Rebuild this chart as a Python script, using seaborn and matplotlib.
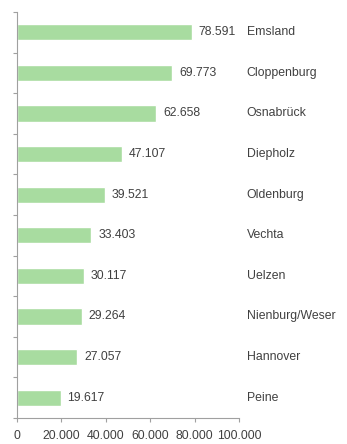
import matplotlib
matplotlib.use("Agg")
import matplotlib.pyplot as plt
import seaborn as sns
import pandas as pd
import numpy as np

districts = ["Emsland", "Cloppenburg", "Osnabrück", "Diepholz", "Oldenburg",
             "Vechta", "Uelzen", "Nienburg/Weser", "Hannover", "Peine"]
values = [78591, 69773, 62658, 47107, 39521, 33403, 30117, 29264, 27057, 19617]
x_ticks = [0, 20000, 40000, 60000, 80000, 100000]

def fmt(v):
    return f"{v:,}".replace(",", ".")

df = pd.DataFrame({"district": districts, "value": values})

sns.set_style("white")
plt.rcParams['font.family'] = ['Liberation Sans', 'DejaVu Sans']

fig = plt.figure(figsize=(3.47, 4.44), dpi=100)
ax = fig.add_axes([0.049, 0.0586, 0.64, 0.9144])

sns.barplot(data=df, x="value", y="district", orient="h", color="#a8dca0",
            width=0.4, saturation=1, ax=ax)

txt = "#404040"
fs = 8.8
ax.bar_label(ax.containers[0], labels=[fmt(v) for v in values], padding=5,
             fontsize=fs, color=txt)

for i, name in enumerate(districts):
    ax.text(1.035, i, name, transform=ax.get_yaxis_transform(), ha="left",
            va="center", fontsize=fs, color=txt)

ax.set_xlim(0, 100000)
ax.set_ylim(len(districts) - 0.5, -0.5)
ax.set_xticks(x_ticks)
ax.set_xticklabels([fmt(v) for v in x_ticks], fontsize=fs, color=txt)
ax.set_yticks(np.arange(len(districts)))
ax.set_yticklabels([])
ax.tick_params(axis="y", which="major", length=0)
ax.set_yticks(np.arange(len(districts) + 1) - 0.5, minor=True)
ax.tick_params(axis="y", which="minor", length=3, color="#a0a0a0", width=0.8, left=True)
ax.tick_params(axis="x", length=3, color="#a0a0a0", width=0.8, bottom=True, pad=6)
ax.set_xlabel("")
ax.set_ylabel("")
for s in ["top", "right"]:
    ax.spines[s].set_visible(False)
for s in ["left", "bottom"]:
    ax.spines[s].set_color("#a0a0a0")
    ax.spines[s].set_linewidth(0.8)

fig.savefig("out.png", dpi=100)
